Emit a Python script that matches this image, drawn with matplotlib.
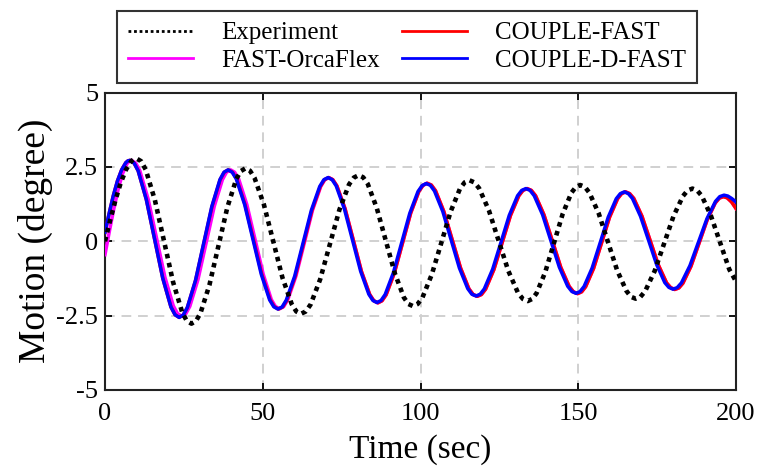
import matplotlib
matplotlib.use("Agg")
import matplotlib.pyplot as plt

plt.rcParams["font.family"] = ["Liberation Serif", "DejaVu Serif"]
plt.rcParams["axes.unicode_minus"] = False

# values (time in s, motion in degree)
exp_t = [0, 1.67, 3.33, 5.0, 6.67, 8.33, 9.17, 10.0,
         11.45, 12.9, 15.8, 18.7, 21.6, 24.5, 25.95, 27.4,
         28.83, 30.25, 33.1, 35.95, 38.8, 41.65, 43.08, 44.5,
         45.97, 47.43, 50.37, 53.3, 56.23, 59.17, 60.63, 62.1,
         63.63, 65.15, 68.2, 71.25, 74.3, 77.35, 78.88, 80.4,
         81.83, 83.27, 86.13, 89.0, 91.87, 94.73, 96.17, 97.6,
         99.09, 100.58, 103.57, 106.55, 109.53, 112.52, 114.01, 115.5,
         117.04, 118.58, 121.67, 124.75, 127.83, 130.92, 132.46, 134.0,
         135.38, 136.77, 139.53, 142.3, 145.07, 147.83, 149.22, 150.6,
         152.07, 153.53, 156.47, 159.4, 162.33, 165.27, 166.73, 168.2,
         169.7, 171.2, 174.2, 177.2, 180.2, 183.2, 184.7, 186.2,
         187.66, 189.12, 192.03, 194.95, 197.87, 200.0]
exp_v = [0.0, 0.72, 1.39, 1.97, 2.41, 2.69, 2.76, 2.78,
         2.69, 2.41, 1.39, 0.01, -1.38, -2.40, -2.68, -2.77,
         -2.68, -2.42, -1.47, -0.16, 1.15, 2.10, 2.36, 2.45,
         2.37, 2.12, 1.23, 0.01, -1.22, -2.11, -2.36, -2.44,
         -2.36, -2.13, -1.28, -0.11, 1.06, 1.91, 2.14, 2.22,
         2.15, 1.93, 1.12, 0.02, -1.08, -1.89, -2.11, -2.18,
         -2.11, -1.90, -1.12, -0.07, 0.99, 1.77, 1.98, 2.05,
         1.98, 1.78, 1.04, 0.02, -0.995, -1.74, -1.94, -2.01,
         -1.94, -1.75, -1.04, -0.06, 0.92, 1.63, 1.82, 1.89,
         1.83, 1.63, 0.94, -0.02, -0.98, -1.67, -1.87, -1.93,
         -1.87, -1.68, -1.005, -0.08, 0.845, 1.52, 1.71, 1.77,
         1.71, 1.53, 0.865, -0.04, -0.945, -1.35]

fast_t = [0, 1.32, 2.63, 3.95, 5.27, 6.58, 7.24, 7.9,
          9.2, 10.5, 13.1, 15.7, 18.3, 20.9, 22.2, 23.5,
          24.8, 26.1, 28.7, 31.3, 33.9, 36.5, 37.8, 39.1,
          40.43, 41.75, 44.4, 47.05, 49.7, 52.35, 53.68, 55.0,
          56.33, 57.65, 60.3, 62.95, 65.6, 68.25, 69.58, 70.9,
          72.2, 73.5, 76.1, 78.7, 81.3, 83.9, 85.2, 86.5,
          87.8, 89.1, 91.7, 94.3, 96.9, 99.5, 100.8, 102.1,
          103.43, 104.75, 107.4, 110.05, 112.7, 115.35, 116.68, 118.0,
          119.32, 120.63, 123.27, 125.9, 128.53, 131.17, 132.48, 133.8,
          135.13, 136.47, 139.13, 141.8, 144.47, 147.13, 148.47, 149.8,
          151.07, 152.33, 154.87, 157.4, 159.93, 162.47, 163.73, 165.0,
          166.3, 167.6, 170.2, 172.8, 175.4, 178.0, 179.3, 180.6,
          181.88, 183.17, 185.73, 188.3, 190.87, 193.43, 194.72, 196.0,
          197.2, 198.6, 200.0]
fast_v = [0.30, 0.94, 1.53, 2.03, 2.40, 2.64, 2.70, 2.72,
          2.63, 2.37, 1.40, 0.08, -1.24, -2.21, -2.47, -2.56,
          -2.48, -2.23, -1.32, -0.08, 1.16, 2.07, 2.32, 2.40,
          2.32, 2.09, 1.23, 0.06, -1.11, -1.97, -2.20, -2.28,
          -2.21, -1.98, -1.18, -0.07, 1.04, 1.84, 2.07, 2.14,
          2.07, 1.86, 1.09, 0.04, -1.02, -1.79, -2.00, -2.07,
          -2.00, -1.80, -1.07, -0.06, 0.95, 1.68, 1.88, 1.95,
          1.89, 1.70, 1.00, 0.05, -0.90, -1.60, -1.79, -1.85,
          -1.79, -1.61, -0.95, -0.04, 0.87, 1.53, 1.71, 1.77,
          1.71, 1.53, 0.89, 0.01, -0.88, -1.52, -1.70, -1.76,
          -1.70, -1.53, -0.91, -0.05, 0.81, 1.43, 1.60, 1.66,
          1.60, 1.44, 0.84, 0.02, -0.80, -1.40, -1.56, -1.62,
          -1.57, -1.41, -0.84, -0.06, 0.72, 1.29, 1.45, 1.50,
          1.46, 1.32, 1.10]

dfast_t = [0, 1.32, 2.63, 3.95, 5.27, 6.58, 7.24, 7.9,
           9.2, 10.5, 13.1, 15.7, 18.3, 20.9, 22.2, 23.5,
           24.79, 26.08, 28.67, 31.25, 33.83, 36.42, 37.71, 39.0,
           40.32, 41.63, 44.27, 46.9, 49.53, 52.17, 53.48, 54.8,
           56.13, 57.45, 60.1, 62.75, 65.4, 68.05, 69.38, 70.7,
           71.99, 73.28, 75.87, 78.45, 81.03, 83.62, 84.91, 86.2,
           87.5, 88.8, 91.4, 94.0, 96.6, 99.2, 100.5, 101.8,
           103.12, 104.43, 107.07, 109.7, 112.33, 114.97, 116.28, 117.6,
           118.92, 120.23, 122.87, 125.5, 128.13, 130.77, 132.08, 133.4,
           134.73, 136.05, 138.7, 141.35, 144.0, 146.65, 147.98, 149.3,
           150.58, 151.85, 154.4, 156.95, 159.5, 162.05, 163.33, 164.6,
           165.88, 167.17, 169.73, 172.3, 174.87, 177.43, 178.72, 180.0,
           181.35, 182.7, 185.4, 188.1, 190.8, 193.5, 194.85, 196.2,
           197.4, 198.6, 200.0]
dfast_v = [0.30, 0.94, 1.53, 2.03, 2.40, 2.64, 2.70, 2.72,
           2.63, 2.37, 1.40, 0.08, -1.24, -2.21, -2.47, -2.56,
           -2.48, -2.23, -1.32, -0.08, 1.16, 2.07, 2.32, 2.40,
           2.32, 2.09, 1.23, 0.06, -1.11, -1.97, -2.20, -2.28,
           -2.21, -1.98, -1.18, -0.07, 1.04, 1.84, 2.07, 2.14,
           2.07, 1.86, 1.09, 0.04, -1.01, -1.78, -1.99, -2.06,
           -1.99, -1.79, -1.06, -0.06, 0.94, 1.67, 1.87, 1.94,
           1.88, 1.69, 1.00, 0.05, -0.90, -1.59, -1.78, -1.84,
           -1.78, -1.60, -0.94, -0.04, 0.87, 1.53, 1.71, 1.77,
           1.71, 1.53, 0.89, 0.01, -0.87, -1.51, -1.69, -1.75,
           -1.69, -1.52, -0.90, -0.05, 0.81, 1.43, 1.60, 1.66,
           1.60, 1.44, 0.84, 0.03, -0.79, -1.39, -1.55, -1.61,
           -1.56, -1.40, -0.82, -0.03, 0.76, 1.34, 1.50, 1.55,
           1.52, 1.44, 1.32]

# FAST-OrcaFlex departs from COUPLE-FAST only over the first cycles
orca_head_t = [0, 1.4, 2.8, 4.2, 5.6, 7.0, 7.7, 8.4,
               9.73, 11.05, 13.7, 16.35, 19.0, 21.65, 22.98, 24.3,
               25.59, 26.88, 29.47, 32.05, 34.63, 37.22, 38.51, 39.8,
               41.09, 42.38, 44.97, 47.55, 50.13, 52.72, 54.01, 55.3,
               56.61, 57.92, 60.53, 63.15, 65.77, 68.38, 69.69]
orca_head_v = [-0.45, 0.34, 1.09, 1.76, 2.28, 2.61, 2.69, 2.72,
               2.63, 2.37, 1.41, 0.10, -1.21, -2.17, -2.43, -2.52,
               -2.44, -2.19, -1.29, -0.06, 1.17, 2.07, 2.32, 2.40,
               2.32, 2.09, 1.23, 0.07, -1.10, -1.96, -2.19, -2.27,
               -2.20, -1.97, -1.17, -0.07, 1.04, 1.84, 2.07]
join = fast_t.index(70.9)
orca_t = orca_head_t + fast_t[join:]
orca_v = orca_head_v + fast_v[join:]

x_ticks = [0, 50, 100, 150, 200]
y_ticks = [-5, -2.5, 0, 2.5, 5]
y_ticklabels = ["-5", "-2.5", "0", "2.5", "5"]

fig = plt.figure(figsize=(7.61, 4.72), dpi=100, facecolor="white")
ax = fig.add_axes([105 / 761, 1 - 390 / 472, 631 / 761, 297.5 / 472])

ax.plot(exp_t, exp_v, color="black", linestyle=(0, (1, 1)), linewidth=3.3,
        label="Experiment", zorder=5)
ax.plot(orca_t, orca_v, color="#ff00ff", linewidth=2.5, label="FAST-OrcaFlex", zorder=3)
ax.plot(fast_t, fast_v, color="#ff0000", linewidth=2.5, label="COUPLE-FAST", zorder=3)
ax.plot(dfast_t, dfast_v, color="#0000ff", linewidth=2.5, label="COUPLE-D-FAST", zorder=4)

ax.set_xlim(0, 200)
ax.set_ylim(-5, 5)
ax.set_xticks(x_ticks)
ax.set_yticks(y_ticks)
ax.set_yticklabels(y_ticklabels)
ax.tick_params(direction="in", length=5, width=1.3, labelsize=19,
               top=True, right=True, pad=5)
ax.tick_params(axis="x", pad=9)
ax.grid(True, color="#d0d0d0", linestyle=(0, (5, 3.5)), linewidth=1.4)
ax.set_axisbelow(True)
for spine in ax.spines.values():
    spine.set_linewidth(1.5)
    spine.set_color("#222222")

ax.set_xlabel("Time (sec)", fontsize=24, labelpad=7)
ax.set_ylabel("Motion (degree)", fontsize=27, labelpad=2)

handles, labels = ax.get_legend_handles_labels()
leg = fig.legend(handles, labels,
                 loc="lower left", ncol=2, mode="expand",
                 bbox_to_anchor=(117 / 761, 1 - 83 / 472, 580 / 761, 74 / 472),
                 borderaxespad=0, fontsize=18, frameon=True, fancybox=False,
                 handlelength=2.6, handletextpad=1.1, labelspacing=0.2,
                 borderpad=0.45)
leg.get_frame().set_edgecolor("black")
leg.get_frame().set_linewidth(1.5)
for line in leg.get_lines():
    line.set_linewidth(2.0)

fig.savefig("out.png", dpi=100, facecolor="white")
